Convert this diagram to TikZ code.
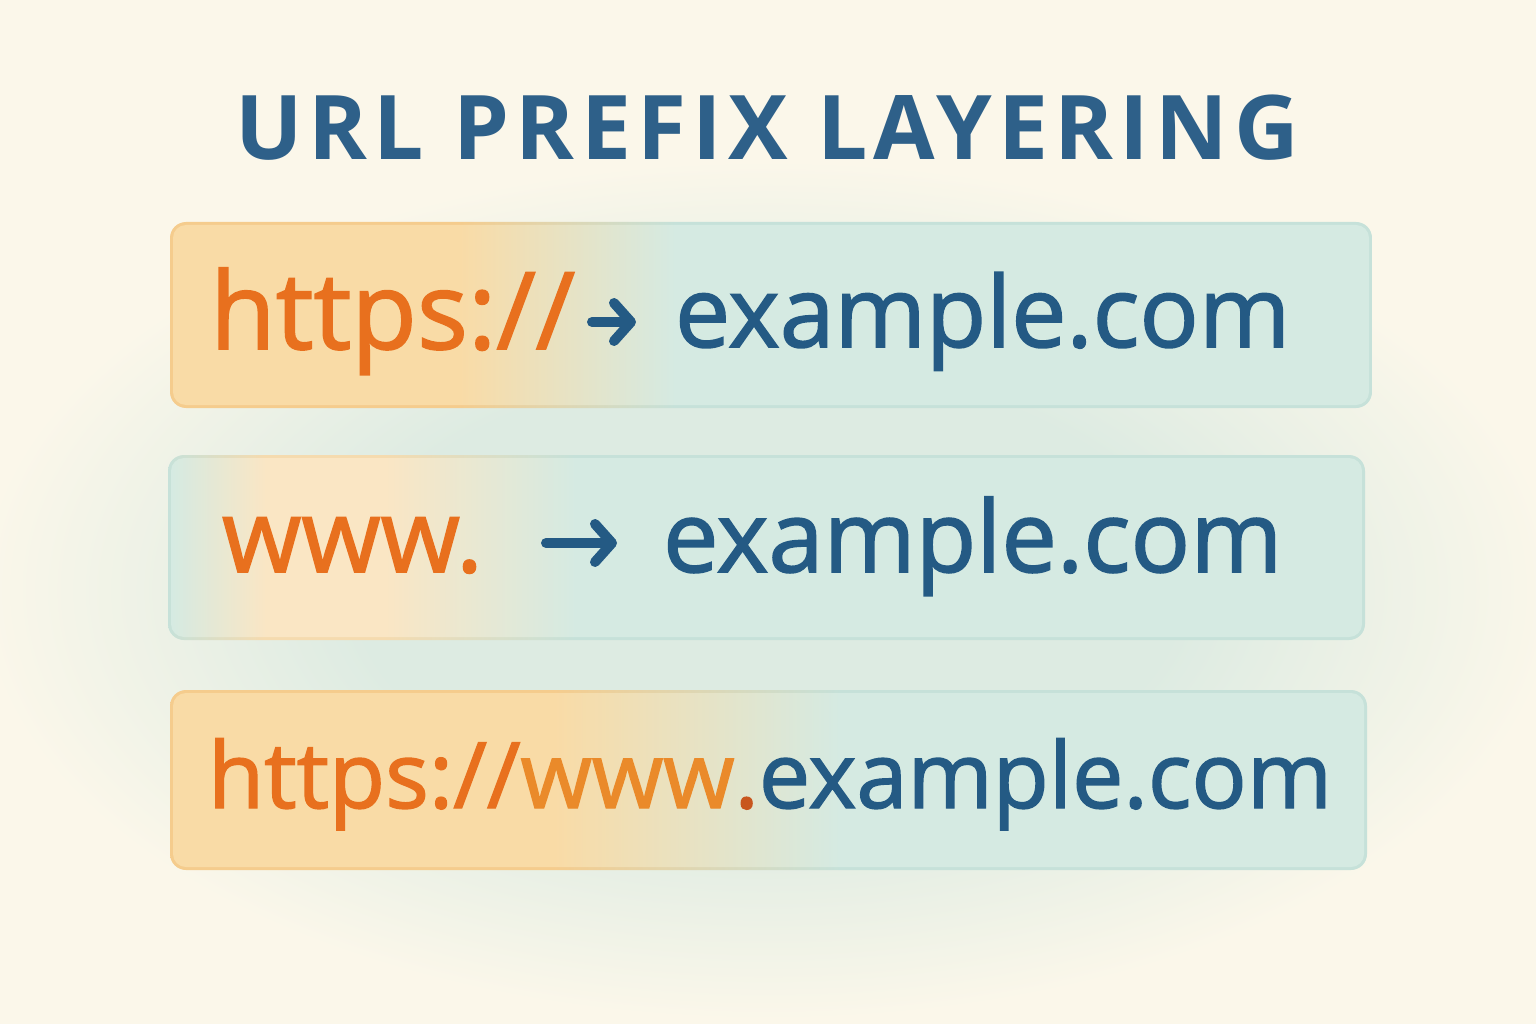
\documentclass[tikz,border=0pt]{standalone}
\usepackage{fontspec}
\usepackage{graphicx}
\setmainfont{Open Sans}
\newfontfamily\medfont[FakeBold=1.6]{Open Sans}
\newfontfamily\titlefont[LetterSpace=7]{Open Sans}
\usetikzlibrary{arrows.meta}
\definecolor{paper}{HTML}{FBF7EA}
\definecolor{washc}{HTML}{DDEBE2}
\definecolor{orA}{HTML}{F9DBA6}
\definecolor{orAd}{HTML}{F5CC8D}
\definecolor{orB}{HTML}{FAE6C4}
\definecolor{orBd}{HTML}{F5DBAF}
\definecolor{tl}{HTML}{D5EAE2}
\definecolor{tld}{HTML}{C6E1D9}
\definecolor{txtor}{HTML}{E8701E}
\definecolor{txtor2}{HTML}{EA8A2A}
\definecolor{txtbr}{HTML}{C8561E}
\definecolor{txtbl}{HTML}{245A84}
\definecolor{titbl}{HTML}{2E6089}
% shadings: path bbox maps to 25bp..75bp
\pgfdeclarehorizontalshading{rowAd}{100bp}{color(0bp)=(orAd); color(37bp)=(orAd); color(46bp)=(tld); color(100bp)=(tld)}
\pgfdeclarehorizontalshading{rowA}{100bp}{color(0bp)=(orA); color(37bp)=(orA); color(46bp)=(tl); color(100bp)=(tl)}
\pgfdeclarehorizontalshading{rowBd}{100bp}{color(0bp)=(tld); color(25bp)=(tld); color(29bp)=(orBd); color(34bp)=(orBd); color(42bp)=(tld); color(100bp)=(tld)}
\pgfdeclarehorizontalshading{rowB}{100bp}{color(0bp)=(tl); color(25bp)=(tl); color(29bp)=(orB); color(34bp)=(orB); color(42bp)=(tl); color(100bp)=(tl)}
\pgfdeclarehorizontalshading{rowCd}{100bp}{color(0bp)=(orAd); color(41bp)=(orAd); color(53bp)=(tld); color(100bp)=(tld)}
\pgfdeclarehorizontalshading{rowC}{100bp}{color(0bp)=(orA); color(41bp)=(orA); color(53bp)=(tl); color(100bp)=(tl)}
\pgfdeclareradialshading{washsh}{\pgfpoint{0bp}{0bp}}{color(0bp)=(washc); color(13bp)=(washc); color(25bp)=(paper); color(50bp)=(paper)}
\tikzset{
  txt/.style={inner sep=0pt, outer sep=0pt, anchor=base west},
  barout/.style={rounded corners=16pt},
  barin/.style={rounded corners=13pt},
  pointer/.style={draw=txtbl, line cap=round,
    -{Straight Barb[length=17pt,width=38pt,line cap=round,line join=round]}}
}
\begin{document}
\begin{tikzpicture}[x=1pt,y=-1pt]
\useasboundingbox (0,0) rectangle (1536,1024);
\fill[paper] (0,0) rectangle (1536,1024);
% faint wash behind the bars
\path[shading=washsh] (768,590) ellipse [x radius=790, y radius=430];
% title
\node[txt] (title) at (235,160) {\resizebox{1063pt}{!}{\titlefont\bfseries\color{titbl}URL PREFIX LAYERING}};
% bar 1
\path[barout, shading=rowAd] (170,222) rectangle (1372,408);
\path[barin, shading=rowA] (173,225) rectangle (1369,405);
% bar 2
\path[barout, shading=rowBd] (168,455) rectangle (1365,640);
\path[barin, shading=rowB] (171,458) rectangle (1362,637);
% bar 3
\path[barout, shading=rowCd] (170,690) rectangle (1367,870);
\path[barin, shading=rowC] (173,693) rectangle (1364,867);
% row 1 text
\node[txt] (p1) at (210,349) {\resizebox{365pt}{!}{\medfont\color{txtor}https://}};
\node[txt] (d1) at (675,347) {\resizebox{615pt}{!}{\medfont\color{txtbl}example.com}};
\coordinate (a1s) at (592,322);
\coordinate (a1e) at (636,322);
\draw[pointer, line width=10pt] (a1s) -- (a1e);
% row 2 text
\node[txt] (p2) at (222,572) {\resizebox{261pt}{!}{\medfont\color{txtor}www.}};
\node[txt] (d2) at (663,572) {\resizebox{619pt}{!}{\medfont\color{txtbl}example.com}};
\coordinate (a2s) at (546,543);
\coordinate (a2e) at (617,543);
\draw[pointer, line width=10pt] (a2s) -- (a2e);
% row 3 text
\node[txt] (u3) at (208,808) {\resizebox{1124pt}{!}{\medfont{\color{txtor}https://}{\color{txtor2}www}{\color{txtbr}.}{\color{txtbl}example.com}}};
\end{tikzpicture}
\end{document}
